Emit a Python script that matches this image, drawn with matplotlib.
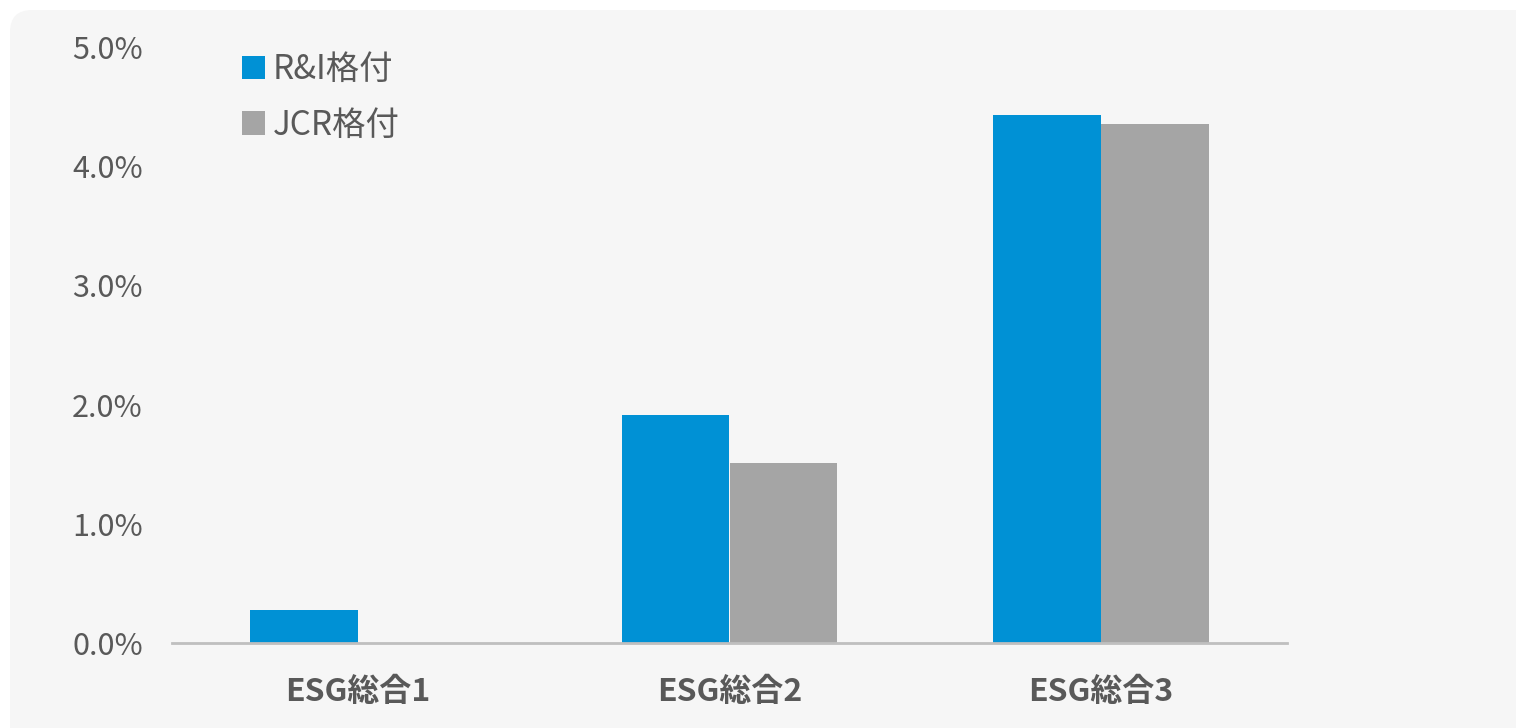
import matplotlib.pyplot as plt
import numpy as np
from matplotlib.patches import FancyBboxPatch
from matplotlib.ticker import PercentFormatter

plt.rcParams['font.family'] = ['Noto Sans CJK JP', 'DejaVu Sans']

# ---------------------------------------------------------------------
# Data
# ---------------------------------------------------------------------
categories = ["ESG総合1", "ESG総合2", "ESG総合3"]
ri_values = [0.28, 1.91, 4.43]
jcr_values = [0.0, 1.51, 4.35]
series_names = ["R&I格付", "JCR格付"]

# ---------------------------------------------------------------------
# Plot
# ---------------------------------------------------------------------
fig = plt.figure(figsize=(15.16, 7.28), dpi=100)
fig.patch.set_facecolor("white")

# light grey rounded panel behind the chart (inches)
panel = FancyBboxPatch((0.10, -1.0), 20, 7.18 + 1.0,
                       boxstyle="round,pad=0,rounding_size=0.22",
                       transform=fig.dpi_scale_trans, facecolor="#f6f6f6",
                       edgecolor="none", zorder=-5)
fig.patches.append(panel)

ax = fig.add_axes([172 / 1516, 1 - 643 / 728, (1287 - 172) / 1516, (643 - 47) / 728])
ax.set_facecolor("none")
ax.set_zorder(2)

x = np.arange(len(categories))
w = 0.29
ax.bar(x - w / 2, ri_values, width=w, color="#0091d5", label=series_names[0], zorder=2)
ax.bar(x + w / 2, jcr_values, width=w, color="#a5a5a5", label=series_names[1], zorder=2)

ax.set_xlim(-0.5, 2.5)
ax.set_ylim(0, 5)
ax.set_yticks(np.arange(0, 5.01, 1))
ax.yaxis.set_major_formatter(PercentFormatter(decimals=1))
ax.set_xticks(x)
ax.set_xticklabels(categories, fontsize=23, fontweight="bold", color="#595959")
ax.tick_params(axis="y", length=0, labelsize=22, labelcolor="#595959", pad=21)
ax.tick_params(axis="x", length=0, pad=24)

for s in ["left", "right", "top"]:
    ax.spines[s].set_visible(False)
ax.spines["bottom"].set_color("#bfbfbf")
ax.spines["bottom"].set_linewidth(2)

leg = ax.legend(loc="upper left", bbox_to_anchor=((242 - 172) / 1115, (643 - 52) / 596),
                frameon=False, borderpad=0, borderaxespad=0,
                fontsize=24, handlelength=0.7, handleheight=0.7,
                handletextpad=0.22, labelspacing=0.62, labelcolor="#595959")

plt.savefig("out.png", dpi=100, facecolor=fig.get_facecolor())
